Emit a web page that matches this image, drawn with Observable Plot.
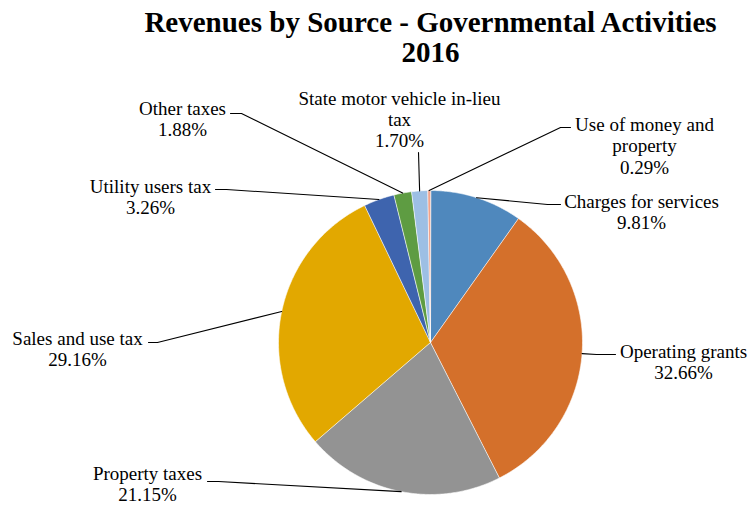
<!DOCTYPE html>
<html><head><meta charset="utf-8">
<script src="https://cdn.jsdelivr.net/npm/d3@7"></script>
<script src="https://cdn.jsdelivr.net/npm/@observablehq/plot@0.6"></script>
<style>body{margin:0;background:#fff}</style>
</head><body><div id="chart"></div>
<script>
// ---- data ----
const categories = ["Charges for services","Operating grants","Property taxes","Sales and use tax","Utility users tax","Other taxes","State motor vehicle in-lieu tax","Use of money and property"];
const shares = [9.81, 32.66, 21.15, 29.16, 3.26, 1.88, 1.70, 0.29];
const labelTexts = ["Charges for services","Operating grants","Property taxes","Sales and use tax","Utility users tax","Other taxes","State motor vehicle in-lieu\ntax","Use of money and\nproperty"];
const colors = ["#4f88bd","#d4702b","#939393","#e2a800","#3e64ae","#5e9c42","#9dbfe4","#f2a38b"];
const titleLines = ["Revenues by Source - Governmental Activities","2016"];

// ---- layout ----
const W = 749, H = 506, CX = 430, CY = 342, R = 152;
const FONT = "Liberation Serif";
const labelPos = [[641,211],[683,361],[147,483],[77,348.5],[150,196],[182,118],[399,118.5],[644,145]];
const leaderLabelEnd = [[560,204],[615,354],[207,481],[148,342],[215,189],[230,113],[418,152],[570,127]];
const leaderElbow = [[547,204],[596,354],[218,481],[157,342],[226,189],[241,113],[418,152],[560,127]];

const total = d3.sum(shares);
let acc = 0;
const slices = shares.map((v, i) => {
  const a0 = acc / total * 2 * Math.PI; acc += v;
  const a1 = acc / total * 2 * Math.PI;
  return {cat: categories[i], a0, a1, mid: (a0 + a1) / 2};
});
const px = a => CX + R * Math.sin(a), py = a => CY - R * Math.cos(a);

const slicePts = slices.flatMap(s => {
  const n = Math.max(2, Math.ceil((s.a1 - s.a0) / (Math.PI / 360)));
  const pts = [{cat: s.cat, x: CX, y: CY}];
  for (let k = 0; k <= n; k++) {
    const a = s.a0 + (s.a1 - s.a0) * k / n;
    pts.push({cat: s.cat, x: px(a), y: py(a)});
  }
  return pts;
});

const leaderPts = slices.flatMap((s, i) => [
  {cat: s.cat, x: leaderLabelEnd[i][0], y: leaderLabelEnd[i][1]},
  {cat: s.cat, x: leaderElbow[i][0], y: leaderElbow[i][1]},
  {cat: s.cat, x: px(s.mid), y: py(s.mid)}
]);

const labels = categories.map((c, i) => ({
  text: labelTexts[i] + "\n" + shares[i].toFixed(2) + "%",
  x: labelPos[i][0], y: labelPos[i][1]
}));

const titleData = [{text: titleLines.join("\n"), x: CX, y: 37}];

const chart = Plot.plot({
  width: W, height: H,
  marginTop: 0, marginRight: 0, marginBottom: 0, marginLeft: 0,
  x: {domain: [0, W], range: [0, W], axis: null},
  y: {domain: [0, H], range: [0, H], axis: null},
  color: {domain: categories, range: colors},
  marks: [
    Plot.line(slicePts, {x: "x", y: "y", z: "cat", fill: "cat", stroke: "white", strokeWidth: 0.6, curve: "linear-closed"}),
    Plot.line(leaderPts, {x: "x", y: "y", z: "cat", stroke: "black", strokeWidth: 1.1}),
    Plot.text(labels, {x: "x", y: "y", text: "text", fontFamily: FONT, fontSize: 19, lineHeight: 1.12, textAnchor: "middle", lineAnchor: "middle", fill: "black"}),
    Plot.text(titleData, {x: "x", y: "y", text: "text", fontFamily: FONT, fontSize: 29, fontWeight: "bold", lineHeight: 1.04, textAnchor: "middle", lineAnchor: "middle", fill: "black"})
  ]
});
chart.style.background = "#fff";
chart.querySelectorAll("text, tspan, g").forEach(el => el.style.setProperty("font-family", "'Liberation Serif', serif", "important"));
document.getElementById("chart").appendChild(chart);
</script>
</body></html>
